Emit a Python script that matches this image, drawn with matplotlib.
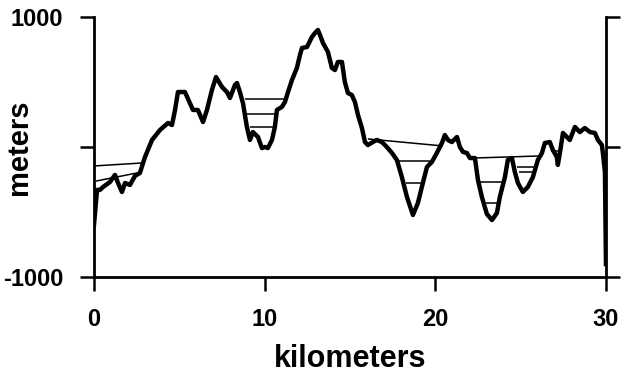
import matplotlib.pyplot as plt

plt.rcParams['font.family'] = ['Liberation Sans', 'DejaVu Sans']

# --- profile along the transect (km, m) ---
dist_km = [0.0, 0.18, 0.35, 0.53, 0.94, 1.23, 1.41, 1.64, 1.82, 2.11, 2.40, 2.69,
           2.99, 3.40, 3.87, 4.34, 4.57, 4.75, 4.92, 5.33, 5.62, 5.80, 6.09, 6.39,
           6.62, 6.91, 7.15, 7.50, 7.79, 7.97, 8.26, 8.38, 8.55, 8.73, 8.96, 9.14,
           9.31, 9.61, 9.84, 10.02, 10.19, 10.43, 10.60, 10.72, 11.01, 11.19, 11.37,
           11.60, 11.89, 12.07, 12.19, 12.48, 12.77, 12.95, 13.12, 13.24, 13.42,
           13.71, 13.94, 14.12, 14.29, 14.53, 14.70, 14.88, 15.11, 15.29, 15.47,
           15.70, 15.88, 16.05, 16.34, 16.58, 16.87, 17.16, 17.46, 17.75, 18.04,
           18.34, 18.69, 18.98, 19.27, 19.51, 19.80, 20.09, 20.39, 20.56, 20.74,
           20.97, 21.27, 21.44, 21.62, 21.85, 22.03, 22.32, 22.50, 22.73, 23.02,
           23.32, 23.61, 23.78, 24.08, 24.25, 24.49, 24.66, 24.84, 25.13, 25.42,
           25.72, 26.01, 26.25, 26.42, 26.71, 26.89, 27.12, 27.18, 27.30, 27.48,
           27.71, 27.88, 28.18, 28.47, 28.76, 29.06, 29.35, 29.53, 29.76, 29.82,
           29.94, 30.0]
elev_m = [-600, -330, -330, -308, -269, -215, -277, -346, -277, -292, -223, -200,
          -77, 54, 131, 185, 169, 285, 423, 423, 338, 285, 285, 192,
          285, 438, 538, 462, 423, 377, 477, 492, 423, 338, 154, 54,
          115, 77, -8, 0, -8, 54, 154, 285, 308, 346, 423,
          515, 608, 708, 762, 769, 846, 877, 900, 862, 800,
          731, 608, 592, 654, 654, 500, 415, 400, 346, 246,
          146, 38, 15, 38, 54, 38, 0, -46, -100, -231,
          -385, -523, -431, -277, -154, -115, -46, 31, 92, 54,
          38, 77, 0, -38, -46, -85, -85, -254, -385, -515,
          -562, -508, -385, -231, -100, -85, -192, -277, -346, -308,
          -231, -100, -46, 31, 38, -23, -77, -138, -46, 108,
          77, 54, 154, 115, 146, 115, 108, 54, 15, -46,
          -192, -900]

# --- water levels filling the closed depressions: (x_start, x_end, y_start, y_end) ---
level_x0 = [0.0, 0.12, 8.85, 8.96, 9.14, 16.05, 17.63, 18.28, 22.20, 22.44, 22.96, 24.78, 24.90, 26.80]
level_x1 = [2.81, 2.52, 11.31, 10.72, 10.49, 20.45, 19.68, 19.27, 26.13, 23.96, 23.73, 25.83, 25.72, 27.30]
level_y0 = [-146, -262, 369, 254, 154, 62, -108, -277, -85, -269, -431, -154, -192, -30]
level_y1 = [-123, -200, 369, 254, 154, 8, -108, -277, -69, -269, -431, -154, -192, -30]

x_ticks = [0, 10, 20, 30]
y_ticks = [-1000, 0, 1000]
y_ticklabels = ["-1000", "", "1000"]

fig = plt.figure(figsize=(6.24, 3.77), dpi=100)
ax = fig.add_axes([0.1506, 0.2653, 0.8205, 0.6896])

for x0, x1, y0, y1 in zip(level_x0, level_x1, level_y0, level_y1):
    ax.plot([x0, x1], [y0, y1], color="black", lw=1.1, solid_capstyle="butt")

ax.plot(dist_km, elev_m, color="black", lw=3.2, solid_joinstyle="round")

ax.set_xlim(0, 30)
ax.set_ylim(-1000, 1000)
ax.set_xticks(x_ticks)
ax.set_yticks(y_ticks)
ax.set_yticklabels(y_ticklabels)

ax.spines["top"].set_visible(False)
for side in ["left", "right", "bottom"]:
    ax.spines[side].set_linewidth(2.0)

ax.tick_params(axis="both", direction="out", length=10, width=1.8,
               labelsize=17, pad=12)
ax.tick_params(axis="y", right=True, labelright=False)
for lab in ax.get_xticklabels() + ax.get_yticklabels():
    lab.set_fontweight("bold")

ax.set_xlabel("kilometers", fontsize=22, fontweight="bold", labelpad=10)
ax.set_ylabel("meters", fontsize=21, fontweight="bold")
# label sits between the 1000 and -1000 tick labels
ax.yaxis.set_label_coords(-0.119, 0.5)

fig.savefig("out.png", dpi=100)
